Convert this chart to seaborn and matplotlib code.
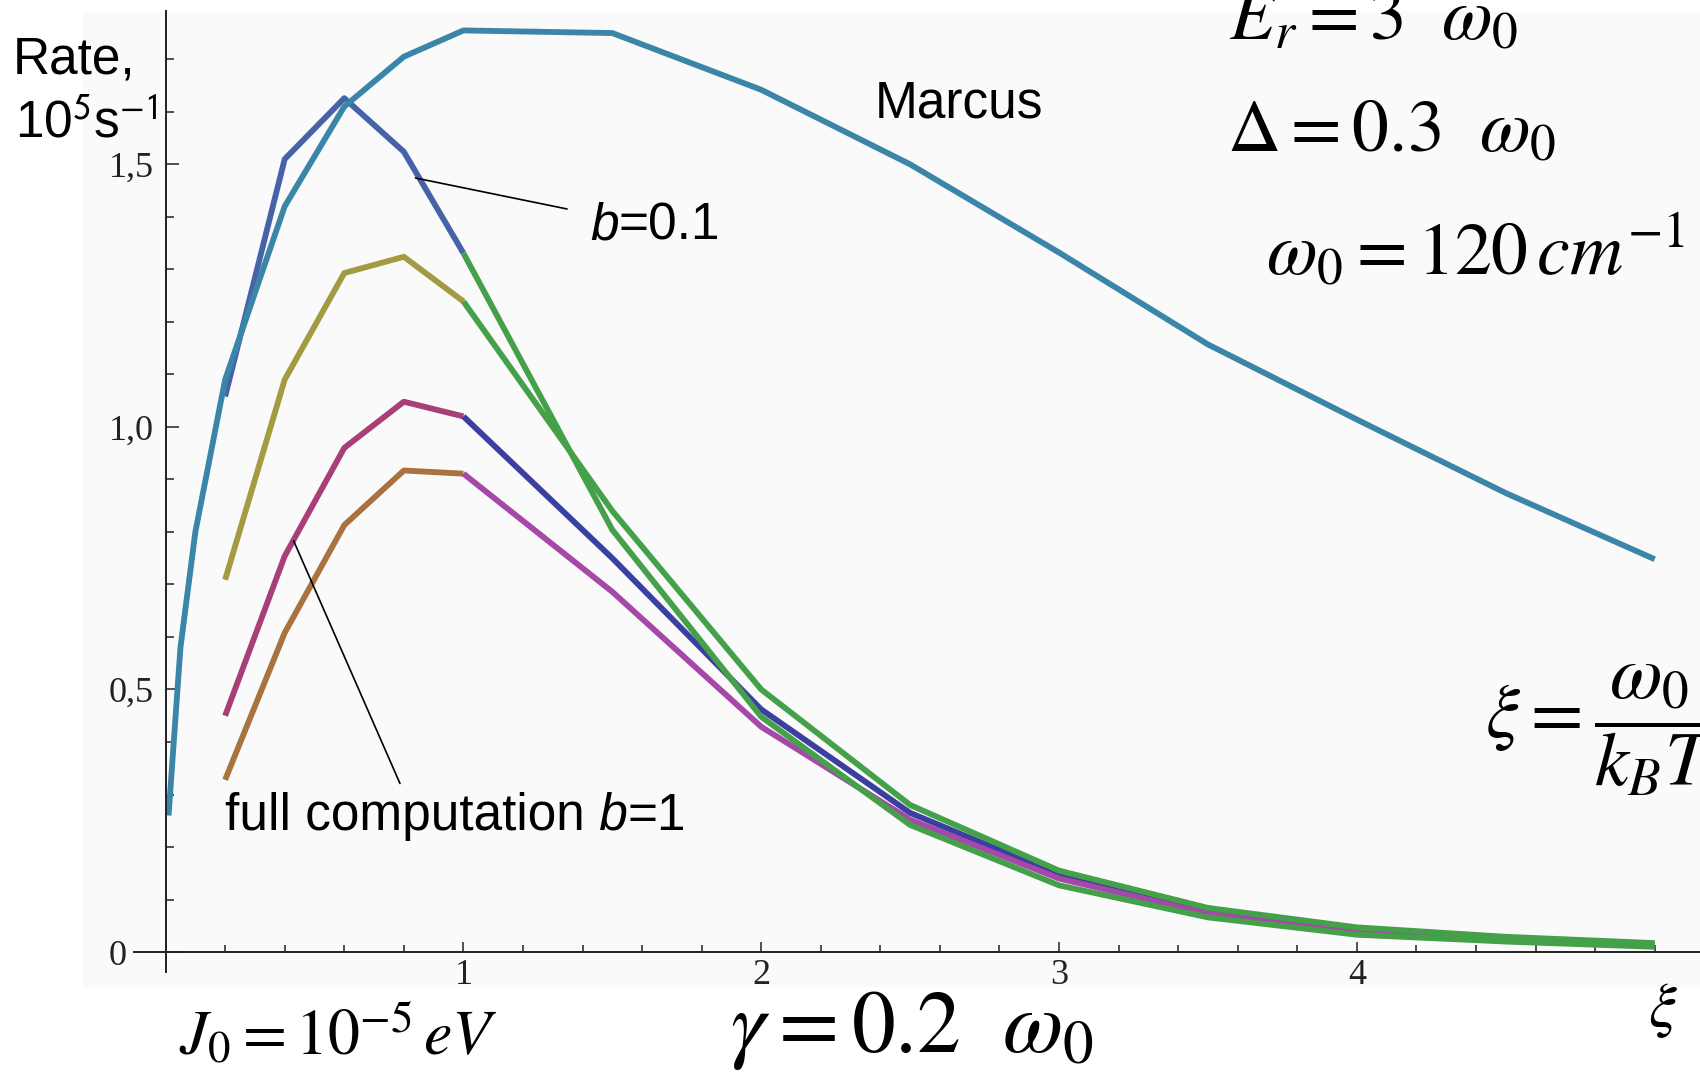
import numpy as np
import pandas as pd
import seaborn as sns
import matplotlib
matplotlib.use('Agg')
import matplotlib.pyplot as plt
from matplotlib.ticker import MultipleLocator
from matplotlib.patches import Rectangle

# Tema base de seaborn, luego fuentes (set_theme pisa font.family)
sns.set_theme(style='white')
plt.rcParams['font.family'] = ['Liberation Sans', 'DejaVu Sans']
plt.rcParams['mathtext.fontset'] = 'stix'
plt.rcParams['lines.solid_capstyle'] = 'butt'

W, H = 1700, 1073

# Curva de Marcus
xi_marcus = [0.01, 0.05, 0.1, 0.2, 0.4, 0.6, 0.8, 1.0, 1.5, 2.0, 2.5, 3.0, 3.5, 4.0, 4.5, 5.0]
rate_marcus = [0.26, 0.58, 0.80, 1.09, 1.42, 1.61, 1.705, 1.755, 1.75, 1.642, 1.50, 1.332,
               1.157, 1.014, 0.874, 0.748]

# Tramo de xi bajo (0.2 - 1)
xi_bajo = [0.2, 0.4, 0.6, 0.8, 1.0]
rate_b01_bajo = [1.058, 1.51, 1.626, 1.524, 1.331]
rate_c2_bajo = [0.709, 1.09, 1.293, 1.324, 1.239]
rate_full_bajo = [0.45, 0.754, 0.96, 1.048, 1.02]
rate_c4_bajo = [0.328, 0.608, 0.813, 0.917, 0.911]

# Tramo de xi alto (1 - 5)
xi_alto = [1.0, 1.5, 2.0, 2.5, 3.0, 3.5, 4.0, 4.5, 5.0]
rate_b01_alto = [1.331, 0.804, 0.448, 0.242, 0.127, 0.066, 0.033, 0.020, 0.010]
rate_c2_alto = [1.239, 0.84, 0.50, 0.28, 0.155, 0.084, 0.047, 0.029, 0.017]
rate_full_alto = [1.02, 0.75, 0.462, 0.265, 0.147, 0.077, 0.041, 0.025, 0.014]
rate_c4_alto = [0.911, 0.686, 0.429, 0.252, 0.140, 0.073, 0.039, 0.024, 0.013]

# Etiquetas de ticks
yticks = [0, 0.5, 1.0, 1.5]
yticklabels = ['0', '0,5', '1,0', '1,5']
xticks = [1, 2, 3, 4]
xticklabels = ['1', '2', '3', '4']

# Orden de dibujo (el último queda encima) y color de cada tramo
tramos = [
    ('b01 bajo', xi_bajo, rate_b01_bajo, '#4763a8'),
    ('c2 bajo', xi_bajo, rate_c2_bajo, '#a39a42'),
    ('full bajo', xi_bajo, rate_full_bajo, '#a83f78'),
    ('c4 bajo', xi_bajo, rate_c4_bajo, '#a8733f'),
    ('full alto', xi_alto, rate_full_alto, '#3b3fa0'),
    ('c4 alto', xi_alto, rate_c4_alto, '#a548a8'),
    ('b01 alto', xi_alto, rate_b01_alto, '#45a04a'),
    ('c2 alto', xi_alto, rate_c2_alto, '#45a04a'),
    ('Marcus', xi_marcus, rate_marcus, '#3b86a8'),
]
datos = pd.concat([pd.DataFrame({'xi': xs, 'rate': ys, 'tramo': nombre})
                   for nombre, xs, ys, _ in tramos], ignore_index=True)
orden = [t[0] for t in tramos]
paleta = {t[0]: t[3] for t in tramos}

fig = plt.figure(figsize=(W / 100, H / 100), dpi=100)
fig.patch.set_facecolor('white')
# fondo apenas gris del panel (debajo de los ejes)
fig.patches.append(Rectangle((83 / W, 1 - 987 / H), 1 - 83 / W, (987 - 12) / H,
                             transform=fig.transFigure, facecolor='#fafafa',
                             edgecolor='none', zorder=-1))

ax = fig.add_axes([134 / W, 1 - 972 / H, 1 - 134 / W, (972 - 11) / H])
ax.set_facecolor('none')

sns.lineplot(datos, x='xi', y='rate', hue='tramo', hue_order=orden, palette=paleta,
             estimator=None, sort=False, legend=False, linewidth=4.2, ax=ax)
ax.set(xlim=(-0.106, 5.152), ylim=(-0.038, 1.792), xlabel='', ylabel='')

# ejes tipo Mathematica, cruzando en el origen
for s in ['top', 'right']:
    ax.spines[s].set_visible(False)
for s in ['left', 'bottom']:
    ax.spines[s].set_position(('data', 0))
    ax.spines[s].set_color('#222222')
    ax.spines[s].set_linewidth(1.4)

ax.set_xticks(xticks, labels=xticklabels)
ax.set_yticks(yticks, labels=yticklabels)
ax.xaxis.set_minor_locator(MultipleLocator(0.2))
ax.yaxis.set_minor_locator(MultipleLocator(0.1))
ax.tick_params(which='both', bottom=True, left=True, direction='in', color='#222222',
               width=1.1, labelcolor='#222222')
ax.tick_params(axis='x', which='major', length=7, pad=5, labelsize=26)
ax.tick_params(axis='x', which='minor', length=5)
ax.tick_params(axis='y', which='major', length=9.5, pad=41, labelsize=26)
ax.tick_params(axis='y', which='minor', length=5.8)
plt.setp(ax.get_xticklabels(), family='Liberation Serif')
plt.setp(ax.get_yticklabels(), family='Liberation Serif', ha='left')

# líneas guía de las anotaciones
ax.annotate('', xy=(0.839, 1.474), xytext=(1.348, 1.415),
            arrowprops=dict(arrowstyle='-', lw=1.2, color='black', shrinkA=0, shrinkB=0))
ax.annotate('', xy=(0.430, 0.783), xytext=(0.787, 0.321),
            arrowprops=dict(arrowstyle='-', lw=1.2, color='black', shrinkA=0, shrinkB=0))

renderer = fig.canvas.get_renderer()


def texto(x_px, y_px, s, size, **kw):
    kw.setdefault('va', 'baseline')
    return fig.text(x_px / W, 1 - y_px / H, s, fontsize=size, ha='left', color='black', **kw)


def texto_mixto(x_px, y_px, partes, size):
    # pega trozos normal/cursiva uno detrás de otro
    for s, estilo in partes:
        t = texto(x_px, y_px, s, size, style=estilo)
        x_px = t.get_window_extent(renderer).x1


texto(13, 74, 'Rate,', 37)
texto(15, 137, r'10$^{\mathsf{5}}$s$^{\mathsf{-1}}$', 37)
texto(875, 118, 'Marcus', 37)
texto_mixto(590, 240, [('b', 'italic'), ('=0.1', 'normal')], 37)
texto_mixto(225, 830, [('full computation', 'normal'), (' b', 'italic'), ('=1', 'normal')], 37)

texto(1229, 40, r'$E_r = 3\ \ \omega_0$', 53)
texto(1227, 152, r'$\Delta = 0.3\ \ \omega_0$', 53)
texto(1266, 275, r'$\omega_0 = 120\,cm^{-1}$', 53)
texto(1485, 730, r'$\xi = \dfrac{\omega_0}{k_B T}$', 55, va='center')
texto(1648, 1010, r'$\xi$', 45, va='center')
texto(179, 1055, r'$J_0 = 10^{-5}\,eV$', 46)
texto(730, 1052, r'$\gamma = 0.2\ \ \omega_0$', 63)

fig.savefig('out.png', dpi=100)
